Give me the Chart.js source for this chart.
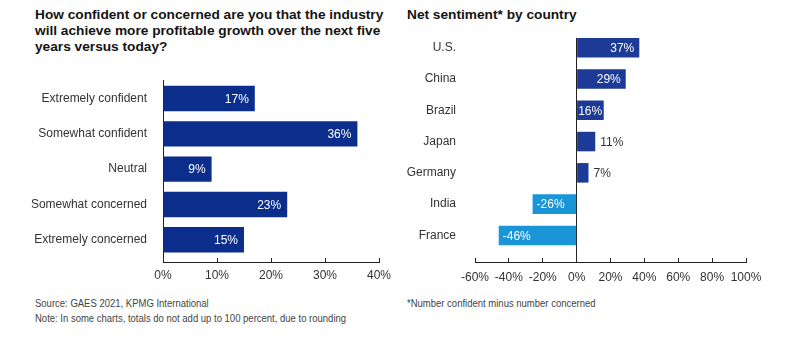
<!DOCTYPE html>
<html>
<head>
<meta charset="utf-8">
<script src="https://cdn.jsdelivr.net/npm/chart.js@4.4.0/dist/chart.umd.min.js"></script>
<style>
  body { margin: 0; width: 785px; height: 337px; background: #fff; position: relative; overflow: hidden; font-family: "Liberation Sans", Arial, sans-serif; }
  .title { position: absolute; font-weight: bold; font-size: 13.7px; line-height: 16px; color: #141414; white-space: nowrap; }
  .note { position: absolute; font-size: 10px; line-height: 12px; color: #444; white-space: nowrap; transform: scaleX(0.95); transform-origin: left center; }
  canvas { position: absolute; }
</style>
</head>
<body>
<div class="title" style="left:35px; top:7px;">How confident or concerned are you that the industry<br>will achieve more profitable growth over the next five<br>years versus today?</div>
<div class="title" style="left:407px; top:7px;">Net sentiment* by country</div>

<canvas id="chart-outlook" width="395" height="222" style="left:0; top:70px;"></canvas>
<canvas id="chart-country" width="385" height="264" style="left:400px; top:28px;"></canvas>

<div class="note" style="left:35px; top:298px;">Source: GAES 2021, KPMG International</div>
<div class="note" style="left:35px; top:313px;">Note: In some charts, totals do not add up to 100 percent, due to rounding</div>
<div class="note" style="left:407px; top:298px;">*Number confident minus number concerned</div>

<script>
const outlookLabels = ['Extremely confident', 'Somewhat confident', 'Neutral', 'Somewhat concerned', 'Extremely concerned'];
const outlookValues = [17, 36, 9, 23, 15];
const outlookTicks = [0, 10, 20, 30, 40];

const countries = ['U.S.', 'China', 'Brazil', 'Japan', 'Germany', 'India', 'France'];
const netSentiment = [37, 29, 16, 11, 7, -26, -46];
const sentimentTicks = [-60, -40, -20, 0, 20, 40, 60, 80, 100];

const FONT = '"Liberation Sans", Arial, sans-serif';
const DARK_BLUE = '#0b2e8c';
const MID_BLUE = '#1c3a96';
const LIGHT_BLUE = '#1a95d8';
const AXIS = '#222';
const TEXT = '#333';

Chart.defaults.font.family = FONT;
Chart.defaults.font.size = 12;
Chart.defaults.color = TEXT;

// value labels: white inside the bar when it fits, dark just past the end otherwise
const barValueLabels = {
  id: 'barValueLabels',
  afterDatasetsDraw(chart, args, opts) {
    const { ctx } = chart;
    const points = chart.data.datasets[0].data;
    ctx.save();
    ctx.font = '12px ' + FONT;
    ctx.textBaseline = 'middle';
    chart.getDatasetMeta(0).data.forEach((bar, i) => {
      const value = points[i].x;
      const text = value + '%';
      const tw = ctx.measureText(text).width;
      const width = Math.abs(bar.x - bar.base);
      if (value < 0) {
        ctx.fillStyle = '#fff';
        ctx.textAlign = 'left';
        ctx.fillText(text, bar.x + 4, bar.y + 1);
      } else if (width >= tw + 2) {
        ctx.fillStyle = '#fff';
        ctx.textAlign = 'right';
        ctx.fillText(text, Math.max(bar.x - opts.inset, bar.base + tw + 1), bar.y + 1);
      } else {
        ctx.fillStyle = TEXT;
        ctx.textAlign = 'left';
        ctx.fillText(text, bar.x + 5, bar.y + 1);
      }
    });
    ctx.restore();
  }
};

// rows sit on a numeric index axis so the space above the first row and
// below the last one can be set independently
const categoryAxis = (labels, width, min, max, border) => ({
  type: 'linear',
  reverse: true,
  offset: false,
  bounds: 'data',
  min: min,
  max: max,
  grid: { display: false, offset: false },
  border: { display: border, color: AXIS, width: 1 },
  afterBuildTicks: s => {
    s.ticks = labels.map((_, i) => ({ value: i }));
    s.min = min;
    s.max = max;
  },
  afterFit: s => { s.width = width; s.paddingTop = 0; s.paddingBottom = 0; },
  ticks: {
    padding: border ? 8 : 11,
    color: TEXT,
    callback: v => labels[v]
  }
});

const valueAxis = (ticks, padding, zeroLine) => ({
  type: 'linear',
  min: ticks[0],
  max: ticks[ticks.length - 1],
  border: { display: true, color: AXIS, width: 1 },
  grid: {
    drawOnChartArea: zeroLine,
    color: ctx => (ctx.tick && ctx.tick.value === 0) ? AXIS : 'rgba(0,0,0,0)',
    tickColor: AXIS,
    tickLength: -4
  },
  afterBuildTicks: s => { s.ticks = ticks.map(v => ({ value: v })); },
  afterFit: s => { s.height = 30; s.paddingLeft = 0; s.paddingRight = 0; },
  ticks: {
    padding: padding,
    color: TEXT,
    maxRotation: 0,
    callback: v => v + '%'
  }
});

new Chart(document.getElementById('chart-outlook'), {
  type: 'bar',
  data: {
    datasets: [{
      data: outlookValues.map((v, i) => ({ x: v, y: i })),
      backgroundColor: DARK_BLUE,
      categoryPercentage: 0.8,
      barPercentage: 0.9
    }]
  },
  options: {
    responsive: false,
    animation: false,
    indexAxis: 'y',
    layout: { padding: { top: 10, right: 16, left: 0, bottom: 0 } },
    plugins: { legend: { display: false }, tooltip: { enabled: false }, barValueLabels: { inset: 6 } },
    scales: {
      y: categoryAxis(outlookLabels, 163, -0.525, 4.63, true),
      x: valueAxis(outlookTicks, 10, false)
    }
  },
  plugins: [barValueLabels]
});

new Chart(document.getElementById('chart-country'), {
  type: 'bar',
  data: {
    datasets: [{
      data: netSentiment.map((v, i) => ({ x: v, y: i })),
      backgroundColor: netSentiment.map(v => v < 0 ? LIGHT_BLUE : MID_BLUE),
      categoryPercentage: 0.8,
      barPercentage: 0.78
    }]
  },
  options: {
    responsive: false,
    animation: false,
    indexAxis: 'y',
    layout: { padding: { top: 10, right: 39, left: 0, bottom: 0 } },
    plugins: { legend: { display: false }, tooltip: { enabled: false }, barValueLabels: { inset: 5 } },
    scales: {
      y: categoryAxis(countries, 75, -0.31, 6.85, false),
      x: valueAxis(sentimentTicks, 12, true)
    }
  },
  plugins: [barValueLabels]
});
</script>
</body>
</html>
